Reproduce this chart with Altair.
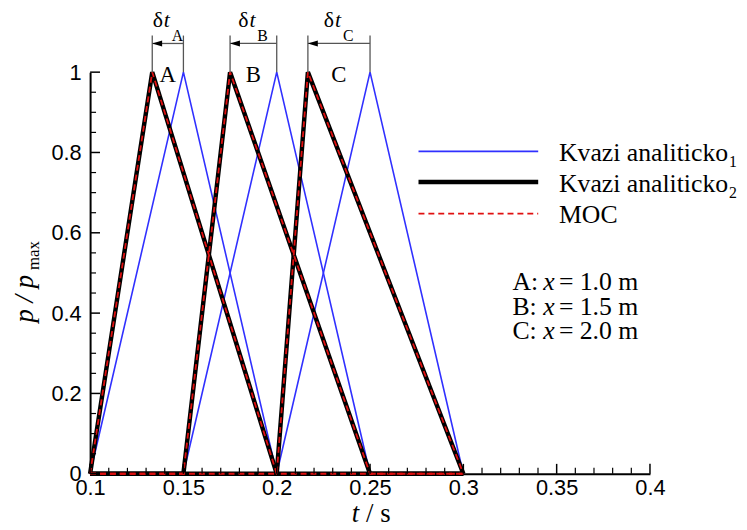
import altair as alt
import pandas as pd

# ---------------- data ----------------
points = ["A", "B", "C"]
positions_m = ["1.0", "1.5", "2.0"]

# Kvazi analiticko_1 (blue)
kv1_t = {"A": [0.10, 0.15, 0.20], "B": [0.15, 0.20, 0.25], "C": [0.20, 0.25, 0.30]}
kv1_p = {"A": [0, 1, 0], "B": [0, 1, 0], "C": [0, 1, 0]}

# Kvazi analiticko_2 (black)
kv2_t = {"A": [0.10, 0.1333, 0.20, 0.30],
         "B": [0.10, 0.15, 0.175, 0.25, 0.30],
         "C": [0.10, 0.20, 0.2167, 0.30]}
kv2_p = {"A": [0, 1, 0, 0], "B": [0, 0, 1, 0, 0], "C": [0, 0, 1, 0]}

# MOC (red dashed)
moc_t = {"A": [0.10, 0.1333, 0.20, 0.30],
         "B": [0.10, 0.15, 0.175, 0.25, 0.30],
         "C": [0.10, 0.20, 0.2167, 0.30]}
moc_p = {"A": [0, 1, 0, 0], "B": [0, 0, 1, 0, 0], "C": [0, 0, 1, 0]}

# peak times for delta-t annotation
peak_kv2 = [0.1333, 0.175, 0.2167]
peak_kv1 = [0.15, 0.20, 0.25]

x_major = [0.1, 0.15, 0.2, 0.25, 0.3, 0.35, 0.4]
y_major = [0, 0.2, 0.4, 0.6, 0.8, 1.0]
x_minor = [0.11, 0.12, 0.13, 0.14, 0.16, 0.17, 0.18, 0.19, 0.21, 0.22, 0.23, 0.24,
           0.26, 0.27, 0.28, 0.29, 0.31, 0.32, 0.33, 0.34, 0.36, 0.37, 0.38, 0.39]
y_minor = [0.05, 0.1, 0.15, 0.25, 0.3, 0.35, 0.45, 0.5, 0.55, 0.65, 0.7, 0.75,
           0.85, 0.9, 0.95]

legend_labels = ["Kvazi analiticko", "Kvazi analiticko", "MOC"]
legend_subs = ["1", "2", ""]

# ---------------- build tables ----------------
def series_df(ts, ps):
    rows = []
    for k in points:
        for i, (t, p) in enumerate(zip(ts[k], ps[k])):
            rows.append({"t": t, "p": p, "seg": k, "o": i})
    return pd.DataFrame(rows)

df1 = series_df(kv1_t, kv1_p)
df2 = series_df(kv2_t, kv2_p)
df3 = series_df(moc_t, moc_p)

ann = pd.DataFrame({"label": points, "tk": peak_kv2, "tb": peak_kv1,
                    "mid": [(a + b) / 2 for a, b in zip(peak_kv2, peak_kv1)]})
vlines = pd.DataFrame({"t": peak_kv2 + peak_kv1})

W, H = 566, 406
SERIF = "Liberation Serif"
SANS = "Liberation Sans"

xscale = alt.Scale(domain=[0.1, 0.4], nice=False, zero=False)
yscale = alt.Scale(domain=[0, 1], nice=False, zero=False)

xaxis = alt.Axis(values=x_major, format="~g", title=None, grid=False, ticks=False,
                 tickSize=0, labelFont=SANS, labelFontSize=22, labelColor="black",
                 domainColor="black", domainWidth=2, labelPadding=4, labelFlush=False)
yaxis = alt.Axis(values=y_major, format="~g", title=None, grid=False, ticks=False,
                 tickSize=0, labelFont=SANS, labelFontSize=22, labelColor="black",
                 domainColor="black", domainWidth=2, labelPadding=9, labelFlush=False)

def X(f="t"):
    return alt.X(f"{f}:Q", scale=xscale, axis=xaxis, title=None)

def Y(f="p"):
    return alt.Y(f"{f}:Q", scale=yscale, axis=yaxis, title=None)

blue = alt.Chart(df1).mark_line(color="#3030ff", strokeWidth=1.6).encode(
    x=X(), y=Y(), detail="seg:N", order="o:Q")
black = alt.Chart(df2).mark_line(color="black", strokeWidth=4.5).encode(
    x=X(), y=Y(), detail="seg:N", order="o:Q")
red = alt.Chart(df3).mark_line(color="#e01010", strokeWidth=1.8, strokeDash=[6, 4]).encode(
    x=X(), y=Y(), detail="seg:N", order="o:Q")

# inward ticks
xmaj = alt.Chart(pd.DataFrame({"t": x_major})).mark_rule(color="black", strokeWidth=1.5).encode(
    x=X(), y=alt.value(H), y2=alt.value(H - 10))
xmin = alt.Chart(pd.DataFrame({"t": x_minor})).mark_rule(color="black", strokeWidth=1.2).encode(
    x=X(), y=alt.value(H), y2=alt.value(H - 6))
ymaj = alt.Chart(pd.DataFrame({"p": y_major})).mark_rule(color="black", strokeWidth=1.5).encode(
    y=Y(), x=alt.value(0), x2=alt.value(10))
ymin = alt.Chart(pd.DataFrame({"p": y_minor})).mark_rule(color="black", strokeWidth=1.2).encode(
    y=Y(), x=alt.value(0), x2=alt.value(6))

# delta-t annotations
vl = alt.Chart(vlines).mark_rule(color="#555555", strokeWidth=1.3).encode(
    x=X(), y=alt.value(-37), y2=alt.value(0))
arrow = alt.Chart(ann).mark_rule(color="#555555", strokeWidth=1.3).encode(
    x=X("tk"), x2="tb:Q", y=alt.value(-29))
head = alt.Chart(ann).mark_point(shape="M 0 0 L 1 -0.3 L 1 0.3 Z", size=400, filled=True,
                                 color="black", opacity=1).encode(
    x=X("tk"), y=alt.value(-29))
delta = alt.Chart(ann).mark_text(font=SERIF, fontSize=22, align="right", baseline="alphabetic",
                                 dx=-5, color="black").encode(
    x=X("mid"), y=alt.value(-46), text=alt.value("δ"))
tlab = alt.Chart(ann).mark_text(font=SERIF, fontSize=22, fontStyle="italic", align="left",
                                baseline="alphabetic", dx=-4, color="black").encode(
    x=X("mid"), y=alt.value(-46), text=alt.value("t"))
sub = alt.Chart(ann).mark_text(font=SERIF, fontSize=16, align="left", baseline="alphabetic",
                               dx=4, color="black").encode(
    x=X("mid"), y=alt.value(-32), text="label:N")
letters = alt.Chart(ann).mark_text(font=SERIF, fontSize=23, align="center",
                                   baseline="alphabetic", color="black").encode(
    x=X("mid"), y=alt.value(10), text="label:N")

# legend
leg_y = [80, 111, 143]
leg = pd.DataFrame({"lab": legend_labels, "sub": legend_subs, "row": [0, 1, 2]})
l1 = alt.Chart(leg.iloc[[0]]).mark_rule(color="#3030ff", strokeWidth=1.8).encode(
    x=alt.value(332), x2=alt.value(453), y=alt.value(leg_y[0]))
l2 = alt.Chart(leg.iloc[[1]]).mark_rule(color="black", strokeWidth=4.5).encode(
    x=alt.value(332), x2=alt.value(453), y=alt.value(leg_y[1]))
l3 = alt.Chart(leg.iloc[[2]]).mark_rule(color="#e01010", strokeWidth=1.8, strokeDash=[6, 4]).encode(
    x=alt.value(332), x2=alt.value(453), y=alt.value(leg_y[2]))
legtxt = []
for i in range(3):
    legtxt.append(alt.Chart(leg.iloc[[i]]).mark_text(
        font=SERIF, fontSize=26, align="left", baseline="alphabetic", color="black").encode(
        x=alt.value(474), y=alt.value(leg_y[i] + 10), text="lab:N"))
    if legend_subs[i]:
        legtxt.append(alt.Chart(leg.iloc[[i]]).mark_text(
            font=SERIF, fontSize=16, align="left", baseline="alphabetic", color="black").encode(
            x=alt.value(646), y=alt.value(leg_y[i] + 16), text="sub:N"))

# position info
info = []
for i, (pt, xm) in enumerate(zip(points, positions_m)):
    yy = 220 + 25 * i
    d = pd.DataFrame({"a": [pt + ":"], "b": [xm + " m"]})
    info.append(alt.Chart(d).mark_text(font=SERIF, fontSize=26, align="left", baseline="alphabetic",
                                       color="black").encode(x=alt.value(427), y=alt.value(yy), text="a:N"))
    info.append(alt.Chart(d).mark_text(font=SERIF, fontSize=26, fontStyle="italic", align="left",
                                       baseline="alphabetic", color="black").encode(
        x=alt.value(458), y=alt.value(yy), text=alt.value("x")))
    info.append(alt.Chart(d).mark_text(font=SERIF, fontSize=26, align="left", baseline="alphabetic",
                                       color="black").encode(x=alt.value(474), y=alt.value(yy), text=alt.value("=")))
    info.append(alt.Chart(d).mark_text(font=SERIF, fontSize=26, align="left", baseline="alphabetic",
                                       color="black").encode(x=alt.value(495), y=alt.value(yy), text="b:N"))

# axis titles
tt = pd.DataFrame({"a": ["t"]})
xt1 = alt.Chart(tt).mark_text(font=SERIF, fontSize=27, fontStyle="italic", align="right",
                              baseline="alphabetic", color="black").encode(
    x=alt.value(272), y=alt.value(455), text=alt.value("t"))
xt2 = alt.Chart(tt).mark_text(font=SERIF, fontSize=27, align="left",
                              baseline="alphabetic", color="black").encode(
    x=alt.value(279), y=alt.value(455), text=alt.value("/ s"))
yt1 = alt.Chart(tt).mark_text(font=SERIF, fontSize=27, fontStyle="italic", align="left", angle=270,
                              baseline="alphabetic", color="black").encode(
    x=alt.value(-58), y=alt.value(253), text=alt.value("p / p"))
yt2 = alt.Chart(tt).mark_text(font=SERIF, fontSize=17, align="left", angle=270,
                              baseline="alphabetic", color="black").encode(
    x=alt.value(-52), y=alt.value(200), text=alt.value("max"))

chart = alt.layer(
    blue, black, red, xmaj, xmin, ymaj, ymin,
    vl, arrow, head, delta, tlab, sub, letters,
    l1, l2, l3, *legtxt, *info, xt1, xt2, yt1, yt2
).properties(
    width=W, height=H,
    autosize=alt.AutoSizeParams(type="none"),
    padding={"left": 83, "top": 62, "right": 90, "bottom": 54},
).configure_view(stroke=None)

chart.save("out.html", embed_options={"renderer": "svg", "actions": False})
